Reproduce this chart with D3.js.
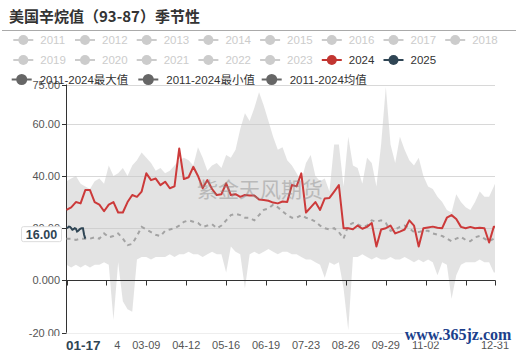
<!DOCTYPE html>
<html>
<head>
<meta charset="utf-8">
<script src="https://cdn.jsdelivr.net/npm/d3@7/dist/d3.min.js"></script>
<style>
  body { margin: 0; background: #fff; }
  text { font-family: "Liberation Sans", "Noto Sans CJK SC", sans-serif; }
</style>
</head>
<body>
<svg id="fig" width="523" height="354"></svg>
<script>
// values sampled every STEP days from 01-01 (last point sits on 12-31)
var STEP = 4;
var maxVals = [38,39,40,37,36,35,38,39,37,44, 40,41,43,40,44,46,49,47,45,42,
               43,41,42,44,46,47,46,44,51,47, 42,44,45,43,48,47,50,58,64,61,
               66,72,67,61,55,50,51,46,44,41, 38,45,48,40,38,39,34,52,52,36,
               55,44,43,37,47,45,36,52,74,52, 45,55,50,46,44,47,40,36,35,32,
               30,27,26,33,30,28,27,30,34,32, 32,36,37];
var minVals = [6,5,6,5,6,5,6,6,7,6, -15,7,-8,-11,-12,8,9,9,8,9,
               9,9,10,9,10,10,11,10,10,9, 10,11,10,10,3,13,11,10,-3,10,
               11,10,11,12,11,10,11,11,10,10, 9,8,8,7,6,1,7,6,7,-3,
               -19,9,9,10,9,8,9,8,8,9, 8,8,9,8,7,8,7,8,7,2,
               7,6,-7,2,6,7,7,7,8,7, 7,3,3];
var avgVals = [16,16,15.5,16,16,16,16.5,16,18,16.5, 17,18,16,13.5,14,17,20.5,19.5,18.5,17.5,
               17,19,19.5,20,21,22.4,23,22.5,22,20.5, 21,21.5,20,21,23,25,25.5,25,24,24,
               23,25,27,27.5,29,28,26.5,25,24,24, 25,24,23.5,22.5,21,20,19.5,20,18.5,16,
               21,22,21.5,20.5,21,23,22.5,23,22,19, 19.5,20.5,21,20,18.5,18.5,19,19,18,17.5,
               17,16,15,16,16.7,15.5,15,16.5,17,16, 15,16,16];
var vals2024 = [27,28,30,29.5,34.6,34.6,30,29,26.5,29, 30,26,26,30,32.7,32,34,41,38.4,39,
                36.5,37.8,35.3,36,50.5,38.8,39.5,43.5,40,35.3, 38.4,35,32.7,33,37.2,32.7,33,32,32.7,32.5,
                32.5,31,30.8,30.5,29.8,29.5,30.2,30,36.5,36, 41,26,28,30,27,31.4,31.6,34,36.5,20,
                20,19.6,21,19.8,20.5,22,13,19.5,20,21, 18,18.7,19.5,23,21,13,20,20.3,20.6,20.2,
                20,24,25,23.5,20.5,20,20.5,20,20.2,20, 14.5,20.6,20.6];
// 2025 is daily, 01-01 .. 01-17
var vals2025 = [20,20.2,20.6,20.5,20,19.4,19.6,20,19.8,18.7,19,19.5,19.8,20,20,17.5,16];

var tickLabels = ["01-01","02-04","03-09","04-12","05-16","06-19","07-23","08-26","09-29","11-02","12-06","12-31"];
var yTicks = [75, 60, 40, 20, 0, -20];
var years = ["2011","2012","2013","2014","2015","2016","2017","2018",
             "2019","2020","2021","2022","2023","2024","2025"];
var statNames = ["2011-2024最大值", "2011-2024最小值", "2011-2024均值"];

var days = d3.utcDay.range(new Date(Date.UTC(2024, 0, 1)), new Date(Date.UTC(2025, 0, 1)))
             .map(d3.utcFormat("%m-%d"));

var svg = d3.select("#fig");
var x = d3.scalePoint().domain(days).range([66.5, 495]);
var y = d3.scaleLinear().domain([-20, 75]).range([332.7, 84.5]);

function dayOf(i) { return days[Math.min(i * STEP, days.length - 1)]; }

// title
svg.append("text").attr("x", 9).attr("y", 22)
   .style("font-family", "'Noto Sans CJK SC', sans-serif")
   .attr("font-size", 15).attr("font-weight", "bold").attr("fill", "#333")
   .text("美国辛烷值（93-87）季节性");
svg.append("line").attr("x1", 2).attr("x2", 516).attr("y1", 30.5).attr("y2", 30.5)
   .attr("stroke", "#aaa");

// grid lines
svg.append("g").selectAll("line").data(yTicks.filter(d => d != 0)).enter().append("line")
   .attr("x1", 66).attr("x2", 495)
   .attr("y1", d => Math.round(y(d)) + 0.5).attr("y2", d => Math.round(y(d)) + 0.5)
   .attr("stroke", d => d == -20 ? "#eee" : "#d8d8d8");

// min-max band
var band = d3.area()
   .x((d, i) => x(dayOf(i)))
   .y0((d, i) => y(minVals[i]))
   .y1(d => y(d));
svg.append("path").datum(maxVals).attr("d", band)
   .attr("fill", "rgba(200,200,200,0.5)");

// axes
var ax = svg.append("g").attr("transform", "translate(0," + (Math.round(y(0)) + 0.5) + ")");
ax.append("line").attr("x1", 66).attr("x2", 495.5).attr("stroke", "#333");
ax.selectAll("line.t").data(tickLabels).enter().append("line").attr("class", "t")
   .attr("x1", d => Math.round(x(d)) + 0.5).attr("x2", d => Math.round(x(d)) + 0.5)
   .attr("y1", 0).attr("y2", 5).attr("stroke", "#333");

// like the chart library, drop a label that would collide with the next one
var shown = tickLabels.filter((d, k) => k == tickLabels.length - 1 || x(tickLabels[k + 1]) - x(d) > 32);
svg.append("g").selectAll("text").data(shown).enter().append("text")
   .attr("x", d => x(d)).attr("y", 349)
   .attr("text-anchor", "middle").attr("font-size", 11).attr("fill", "#555")
   .text(d => d);

svg.append("line").attr("x1", 66.5).attr("x2", 66.5).attr("y1", y(75)).attr("y2", y(-20))
   .attr("stroke", "#333");
svg.append("g").selectAll("line").data(yTicks).enter().append("line")
   .attr("x1", 62).attr("x2", 66.5)
   .attr("y1", d => Math.round(y(d)) + 0.5).attr("y2", d => Math.round(y(d)) + 0.5)
   .attr("stroke", "#333");
svg.append("g").selectAll("text").data(yTicks).enter().append("text")
   .attr("x", 60).attr("y", d => y(d) + 4)
   .attr("text-anchor", "end").attr("font-size", 11).attr("fill", "#555")
   .text(d => d == 0 ? "0.000" : d.toFixed(2));

// series
var line = d3.line().x((d, i) => x(dayOf(i))).y(d => y(d));
svg.append("path").datum(avgVals).attr("d", line)
   .attr("fill", "none").attr("stroke", "#a3a3a3").attr("stroke-width", 2)
   .attr("stroke-dasharray", "4,4");
svg.append("path").datum(vals2024).attr("d", line)
   .attr("fill", "none").attr("stroke", "#cc3a3a").attr("stroke-width", 2)
   .attr("stroke-linejoin", "round");
svg.append("path").datum(vals2025)
   .attr("d", d3.line().x((d, i) => x(days[i])).y(d => y(d)))
   .attr("fill", "none").attr("stroke", "#2f4554").attr("stroke-width", 2);

// watermark
svg.append("text").attr("x", 260).attr("y", 197).attr("text-anchor", "middle")
   .style("font-family", "'Noto Sans CJK SC', sans-serif")
   .attr("font-size", 21).attr("fill", "#888").attr("opacity", 0.45)
   .text("紫金天风期货");

// legend
var lg = svg.append("g");
years.forEach(function (yr, k) {
    var row = Math.floor(k / 8), col = k % 8;
    var cx = 23.3 + col * 61.7, cy = 40 + row * 20;
    var c = yr == "2024" ? "#c23531" : yr == "2025" ? "#2f4554" : "#ccc";
    lg.append("line").attr("x1", cx - 10).attr("x2", cx + 10).attr("y1", cy).attr("y2", cy)
      .attr("stroke", c).attr("stroke-width", 2);
    lg.append("circle").attr("cx", cx).attr("cy", cy).attr("r", 5).attr("fill", c);
    lg.append("text").attr("x", cx + 17).attr("y", cy + 4).attr("font-size", 11.5)
      .attr("fill", c == "#ccc" ? "#ccc" : "#333").text(yr);
});
var statX = [21.7, 148.3, 271.7];
statNames.forEach(function (s, k) {
    var cx = statX[k], cy = 79.5;
    lg.append("line").attr("x1", cx - 10).attr("x2", cx + 10).attr("y1", cy).attr("y2", cy)
      .attr("stroke", "#666").attr("stroke-width", 2);
    lg.append("circle").attr("cx", cx).attr("cy", cy).attr("r", 5.5).attr("fill", "#666");
    lg.append("text").attr("x", cx + 18).attr("y", cy + 4).attr("font-size", 11.5)
      .attr("fill", "#333").text(s);
});

// axis pointer labels
var px = x(days[vals2025.length - 1]);
svg.append("rect").attr("x", 45).attr("y", 336).attr("width", px - 45 + 29).attr("height", 18)
   .attr("fill", "#fff");
svg.append("text").attr("x", px - 2).attr("y", 350).attr("text-anchor", "middle")
   .attr("font-size", 13.5).attr("font-weight", "bold").attr("fill", "#2f4554")
   .text(days[vals2025.length - 1]);
var py = y(vals2025[vals2025.length - 1]) - 4.5;
svg.append("rect").attr("x", 21.5).attr("y", py - 7.5).attr("width", 40).attr("height", 15)
   .attr("rx", 2).attr("fill", "#fff").attr("stroke", "#ddd");
svg.append("text").attr("x", 41.5).attr("y", py + 4.5).attr("text-anchor", "middle")
   .attr("font-size", 12.5).attr("font-weight", "bold").attr("fill", "#2f4554")
   .text(vals2025[vals2025.length - 1].toFixed(2));

// site mark
svg.append("text").attr("x", 458).attr("y", 340).attr("text-anchor", "middle")
   .style("font-family", "'Liberation Serif', serif")
   .attr("font-size", 16).attr("font-weight", "bold").attr("fill", "#1c3f8c")
   .attr("stroke", "#fff").attr("stroke-width", 3).attr("paint-order", "stroke")
   .text("www.365jz.com");
</script>
</body>
</html>
